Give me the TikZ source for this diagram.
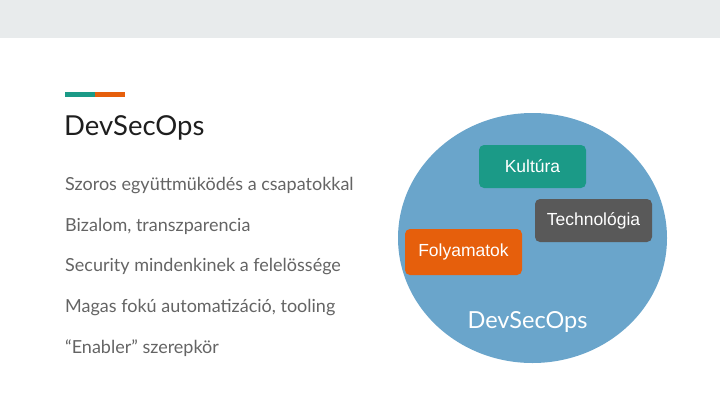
\documentclass[tikz,border=0pt]{standalone}
\usepackage{fontspec}
\setmainfont{Lato}
\newfontfamily\arialfont{Liberation Sans}
\usetikzlibrary{shapes.geometric}

\definecolor{bandgray}{HTML}{E8EBEC}
\definecolor{teal}{HTML}{1B9A87}
\definecolor{rust}{HTML}{E65F0C}
\definecolor{slate}{HTML}{595959}
\definecolor{sky}{HTML}{6AA5CB}
\definecolor{ink}{HTML}{1E1E1E}
\definecolor{bodygray}{HTML}{646464}

\begin{document}
\begin{tikzpicture}[x=1pt,y=-1pt,
	block/.style ={rounded corners=5pt, text=white, inner sep=0pt, font=\arialfont\fontsize{17.5}{20}\selectfont},
	point/.style ={anchor=base west, inner sep=0pt, text=bodygray, font=\fontsize{18}{21}\selectfont}]
		\useasboundingbox (0,0) rectangle (720,405);
		\fill[bandgray] (0,0) rectangle (720,38);
		% accent line and title
		\fill[teal] (65,92) rectangle (95,97);
		\fill[rust] (95,92) rectangle (125,97);
		\node[anchor=base west, inner sep=0pt, text=ink, font=\fontsize{27.5}{32}\selectfont] (title) at (64,135) {DevSecOps};
		\node[point] (p1) at (65,190) {Szoros együttmüködés a csapatokkal};
		\node[point] (p2) at (65,231) {Bizalom, transzparencia};
		\node[point] (p3) at (65,271) {Security mindenkinek a felelössége};
		\node[point] (p4) at (65,312) {Magas fokú automatizáció, tooling};
		\node[point] (p5) at (65,353) {“Enabler” szerepkör};
		% circle
		\node[ellipse, fill=sky, minimum width=269pt, minimum height=250pt, inner sep=0pt] (circ) at (532.5,238) {};
		\node[block, fill=teal, minimum width=107pt, minimum height=43pt] (kult) at (532.5,166.5) {Kultúra};
		\node[block, fill=slate, minimum width=117pt, minimum height=43pt] (tech) at (593.5,220.5) {Technológia};
		\node[block, fill=rust, minimum width=117pt, minimum height=46pt] (foly) at (463.5,252) {Folyamatok};
		\node[anchor=base, inner sep=0pt, text=white, font=\fontsize{23.5}{28}\selectfont] (dso) at (527.5,328) {DevSecOps};
	\end{tikzpicture}
\end{document}
